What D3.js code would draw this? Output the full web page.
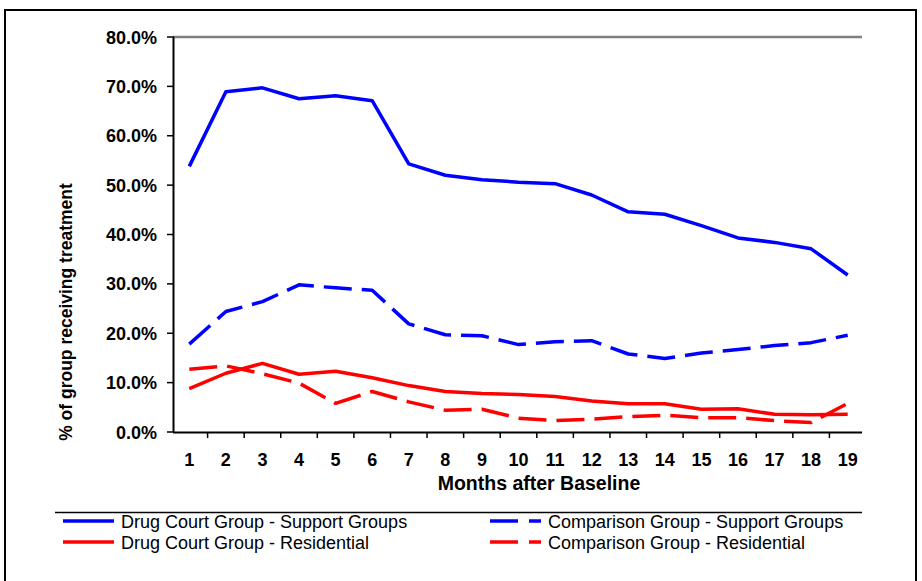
<!DOCTYPE html>
<html>
<head>
<meta charset="utf-8">
<script src="https://cdn.jsdelivr.net/npm/d3@7"></script>
<style>
  body { margin: 0; background: #fff; }
  svg { display: block; font-family: "Liberation Sans", Arial, sans-serif; }
</style>
</head>
<body>
<div class="myBox"></div>
<script>
var width = 922;
var height = 581;

// months after baseline
var months = [1, 2, 3, 4, 5, 6, 7, 8, 9, 10, 11, 12, 13, 14, 15, 16, 17, 18, 19];
var yTicks = [0, 0.1, 0.2, 0.3, 0.4, 0.5, 0.6, 0.7, 0.8];

// % of group receiving treatment
var drugCourtSupport = [53.8, 68.9, 69.7, 67.5, 68.1, 67.1, 54.3, 52.0, 51.1, 50.6, 50.3, 48.0, 44.6, 44.1, 41.8, 39.3, 38.4, 37.1, 31.8];
var comparisonSupport = [17.8, 24.4, 26.4, 29.8, 29.2, 28.7, 21.9, 19.7, 19.5, 17.7, 18.3, 18.5, 15.8, 14.9, 16.0, 16.7, 17.5, 18.1, 19.6];
var drugCourtResidential = [8.8, 11.9, 13.9, 11.7, 12.3, 11.0, 9.4, 8.2, 7.8, 7.6, 7.2, 6.3, 5.7, 5.7, 4.6, 4.7, 3.6, 3.5, 3.6];
var comparisonResidential = [12.7, 13.4, 11.8, 9.9, 5.8, 8.2, 6.1, 4.4, 4.6, 2.8, 2.3, 2.6, 3.1, 3.4, 2.9, 2.9, 2.3, 1.9, 5.8];

var seriesNames = ["Drug Court Group - Support Groups", "Comparison Group - Support Groups",
                   "Drug Court Group - Residential", "Comparison Group - Residential"];

var series = [
  { name: seriesNames[0], values: drugCourtSupport, color: "#0000ff", dash: null },
  { name: seriesNames[1], values: comparisonSupport, color: "#0000ff", dash: "28,10" },
  { name: seriesNames[2], values: drugCourtResidential, color: "#ff0000", dash: null },
  { name: seriesNames[3], values: comparisonResidential, color: "#ff0000", dash: "28,10" }
];

var svg = d3.select(".myBox")
  .append("svg")
  .attr("width", width)
  .attr("height", height);

// outer frame
svg.append("rect")
  .attr("x", 5).attr("y", 10)
  .attr("width", 911).attr("height", 620)
  .attr("fill", "none")
  .attr("stroke", "#000")
  .attr("stroke-width", 2);

var x = d3.scaleBand()
  .domain(months)
  .range([171, 866]);

var y = d3.scaleLinear()
  .domain([0, 0.8])
  .range([432, 37]);

function cx(m) { return x(m) + x.bandwidth() / 2; }

// top gridline (gray)
svg.append("line")
  .attr("x1", 173).attr("x2", 862)
  .attr("y1", y(0.8)).attr("y2", y(0.8))
  .attr("stroke", "#808080")
  .attr("stroke-width", 2.5);

// y axis
svg.append("line")
  .attr("x1", 173.5).attr("x2", 173.5)
  .attr("y1", y(0.8)).attr("y2", y(0))
  .attr("stroke", "#000").attr("stroke-width", 2);

svg.selectAll(".ytick")
  .data(yTicks)
  .enter().append("line")
    .attr("class", "ytick")
    .attr("x1", 167).attr("x2", 174)
    .attr("y1", function(d) { return y(d); })
    .attr("y2", function(d) { return y(d); })
    .attr("stroke", "#000").attr("stroke-width", 1.5);

svg.selectAll(".ylabel")
  .data(yTicks)
  .enter().append("text")
    .attr("class", "ylabel")
    .attr("x", 157)
    .attr("y", function(d) { return y(d) + 6.5; })
    .attr("text-anchor", "end")
    .attr("font-size", 18)
    .attr("font-weight", "bold")
    .attr("fill", "#000")
    .text(function(d) { return d3.format(".1%")(d); });

// x axis
svg.append("line")
  .attr("x1", 173).attr("x2", 862)
  .attr("y1", 432.5).attr("y2", 432.5)
  .attr("stroke", "#000").attr("stroke-width", 2);

svg.selectAll(".xtick")
  .data(months.slice(1))
  .enter().append("line")
    .attr("class", "xtick")
    .attr("x1", function(d) { return x(d); })
    .attr("x2", function(d) { return x(d); })
    .attr("y1", 432).attr("y2", 438)
    .attr("stroke", "#000").attr("stroke-width", 1.5);

svg.selectAll(".xlabel")
  .data(months)
  .enter().append("text")
    .attr("class", "xlabel")
    .attr("x", function(d) { return cx(d); })
    .attr("y", 466)
    .attr("text-anchor", "middle")
    .attr("font-size", 18)
    .attr("font-weight", "bold")
    .attr("fill", "#000")
    .text(function(d) { return d; });

svg.append("text")
  .attr("x", 539).attr("y", 490)
  .attr("text-anchor", "middle")
  .attr("font-size", 19.5)
  .attr("font-weight", "bold")
  .text("Months after Baseline");

svg.append("text")
  .attr("transform", "translate(72,312) rotate(-90)")
  .attr("text-anchor", "middle")
  .attr("font-size", 17.5)
  .attr("font-weight", "bold")
  .text("% of group receiving treatment");

// lines
var line = d3.line()
  .x(function(d, i) { return cx(months[i]); })
  .y(function(d) { return y(d / 100); });

svg.selectAll(".series")
  .data(series)
  .enter().append("path")
    .attr("class", "series")
    .attr("d", function(d) { return line(d.values); })
    .attr("fill", "none")
    .attr("stroke", function(d) { return d.color; })
    .attr("stroke-width", 3.5)
    .attr("stroke-dasharray", function(d) { return d.dash; })
    .attr("stroke-linejoin", "round");

// legend
svg.append("line")
  .attr("x1", 55).attr("x2", 862)
  .attr("y1", 512.5).attr("y2", 512.5)
  .attr("stroke", "#000").attr("stroke-width", 1.5);

var legendPos = [[63, 521], [490, 521], [63, 542], [490, 542]];

var legend = svg.selectAll(".legend")
  .data(series)
  .enter().append("g")
    .attr("class", "legend")
    .attr("transform", function(d, i) { return "translate(" + legendPos[i][0] + "," + legendPos[i][1] + ")"; });

legend.append("line")
  .attr("x1", 0).attr("x2", 51)
  .attr("y1", 0).attr("y2", 0)
  .attr("stroke", function(d) { return d.color; })
  .attr("stroke-width", 3.5)
  .attr("stroke-dasharray", function(d) { return d.dash ? "28,11" : null; });

legend.append("text")
  .attr("x", 58).attr("y", 6.5)
  .attr("font-size", 18)
  .attr("fill", "#000")
  .text(function(d) { return d.name; });
</script>
</body>
</html>
